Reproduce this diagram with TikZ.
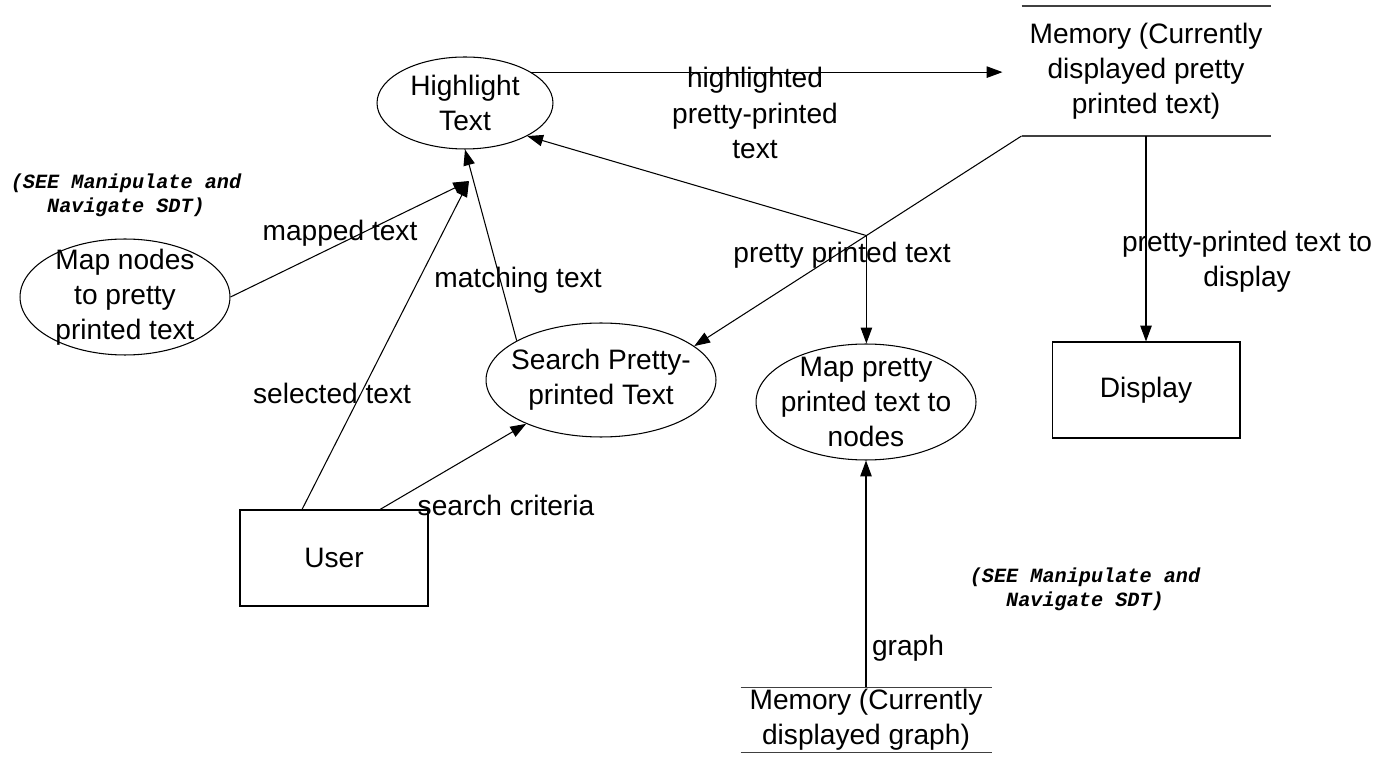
\documentclass[tikz,border=0pt]{standalone}
\usepackage{fontspec}
\setmainfont{Liberation Sans}
\newfontfamily\notefont{Liberation Mono}
\usetikzlibrary{shapes.geometric, arrows.meta}
\tikzstyle{arrow} = [->, >={Triangle[length=9pt,width=6.5pt]}]
\tikzstyle{process} = [ellipse, draw, inner sep=0pt]
\tikzstyle{entity} = [rectangle, draw, minimum width=3.76cm, minimum height=1.92cm]
\tikzstyle{store} = [inner sep=0pt, align=center]
\tikzstyle{storeline} = [draw=black!75]
\tikzstyle{flow} = [align=center]
\tikzstyle{note} = [align=center, font=\notefont\fontsize{11.5}{13.6}\bfseries\itshape]

\begin{document}
\begin{tikzpicture}[x=0.02cm, y=-0.02cm, font=\fontsize{16}{20}\selectfont, line width=0.6pt]
\useasboundingbox (0,0) rectangle (1381,759);

% Processes
\node (hl) [process, minimum width=3.52cm, minimum height=1.84cm, label={[align=center]center:Highlight\\Text}] at (465,103) {};
\node (mapnodes) [process, minimum width=4.2cm, minimum height=2.32cm, label={[align=center]center:Map nodes\\to pretty\\printed text}] at (125,297) {};
\node (search) [process, minimum width=4.6cm, minimum height=2.28cm, label={[align=center]center:Search Pretty-\\printed Text}] at (601,380) {};
\node (mappp) [process, minimum width=4.4cm, minimum height=2.32cm, label={[align=center]center:Map pretty\\printed text to\\nodes}] at (866,402) {};

% External entities
\node (display) [entity] at (1146,390) {Display};
\node (user) [entity] at (334,558) {User};

% Data stores
\node (memtop) [store, minimum width=5.72cm, minimum height=2.58cm] at (1146,71) {Memory (Currently\\displayed pretty\\printed text)};
\draw [storeline] ([xshift=0.38cm]memtop.north west) -- ([xshift=-0.38cm]memtop.north east);
\draw [storeline] ([xshift=0.38cm]memtop.south west) coordinate (memcorner) -- ([xshift=-0.38cm]memtop.south east);
\node (memgraph) [store, minimum width=5cm, minimum height=1.28cm] at (866,720) {Memory (Currently\\displayed graph)};
\draw [storeline] (memgraph.north west) -- (memgraph.north east);
\draw [storeline] (memgraph.south west) -- (memgraph.south east);

% Junction points
\coordinate (hlin) at (469,181);
\path (memcorner) -- (search.20) coordinate [pos=0.474] (split);

% Flows
\draw [arrow] (hl.25) -- (hl.25 -| memtop.west);
\draw [arrow] (memtop.south) -- (display.north);
\draw [arrow] (memcorner) -- (search.20);
\draw [arrow] (split) -- (hl.-28);
\draw [arrow] (split) -- (split |- mappp.north);
\draw [arrow] (mapnodes.east) -- (hlin);
\draw [arrow] ([xshift=-0.64cm]user.north) -- (hlin);
\draw [arrow] ([xshift=0.92cm]user.north) -- (search);
\draw [arrow] (search.155) -- (hl.south);
\draw [arrow] (memgraph.north) -- (mappp.south);

% Flow labels
\node (lblhl) [flow] at (755,113) {highlighted\\pretty-printed\\text};
\node (lbldisp) [flow] at (1247,262) {pretty-printed text to\\display};
\node (lblpp) [flow] at (842,255) {pretty printed text};
\node (lblmapped) [flow] at (340,233) {mapped text};
\node (lblmatch) [flow] at (518,280) {matching text};
\node (lblsel) [flow] at (332,393) {selected text};
\node (lblcrit) [flow] at (506,505) {search criteria};
\node (lblgraph) [flow] at (908,648) {graph};

% Notes
\node (note1) [note] at (126,195) {(SEE Manipulate and\\Navigate SDT)};
\node (note2) [note] at (1085,589) {(SEE Manipulate and\\Navigate SDT)};

\end{tikzpicture}
\end{document}
